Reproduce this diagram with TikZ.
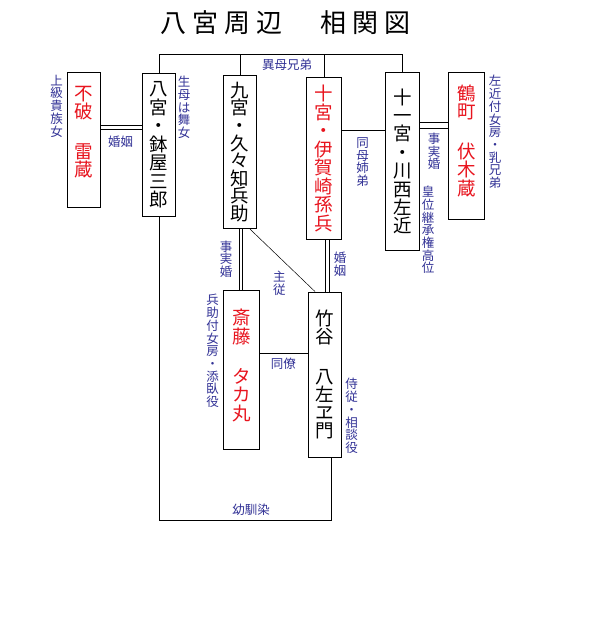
\documentclass[tikz,border=0pt]{standalone}
\usepackage{fontspec}
\newfontfamily\jp{Noto Sans CJK JP}
\definecolor{navy}{RGB}{50,50,150}
\definecolor{rd}{RGB}{232,20,30}
\begin{document}
\begin{tikzpicture}[x=1pt,y=-1pt,
  box/.style={draw=black, line width=0.8pt, inner sep=0pt, align=center, fill=white},
  bk/.style={text=black, font=\jp\fontsize{18.5}{#1}\selectfont},
  rdt/.style={text=rd, font=\jp\fontsize{18.5}{#1}\selectfont},
  lbl/.style={text=navy, inner sep=0pt, align=center, font=\jp\fontsize{12.5}{#1}\selectfont},
  lbl/.default=12.7,
  ln/.style={line width=0.8pt, draw=black}]
\useasboundingbox[fill=white] (0,0) rectangle (594,641);

% title
\node[font=\jp\fontsize{26}{26}\selectfont, inner sep=0pt] (title) at (285.5,22.5)
  {八\kern6pt 宮\kern6pt 周\kern6pt 辺\kern38pt 相\kern6pt 関\kern6pt 図};

% boxes
\node[box, rdt=18, minimum width=33pt, minimum height=135pt] (fuwa) at (83.5,139.5)
  {不\\破\\[22pt]雷\\蔵\\[-1.5pt]\mbox{}};
\node[box, bk=18.5, minimum width=33.4pt, minimum height=142.3pt] (hachi) at (159,145)
  {八\\宮\\・\\鉢\\屋\\三\\郎};
\node[box, bk=17.6, minimum width=33.4pt, minimum height=153.4pt] (kyu) at (240,152)
  {九\\宮\\・\\久\\々\\知\\兵\\助};
\node[box, rdt=18.5, minimum width=35pt, minimum height=162pt] (ju) at (324.2,158.3)
  {十\\宮\\・\\伊\\賀\\崎\\孫\\兵};
\node[box, bk=18.4, minimum width=33.6pt, minimum height=178pt] (juichi) at (402.5,161.3)
  {十\\一\\宮\\・\\川\\西\\左\\近};
\node[box, rdt=18.6, minimum width=36pt, minimum height=147pt] (tsuru) at (466.3,145.8)
  {鶴\\町\\[21pt]伏\\木\\蔵\\[-7pt]\mbox{}};
\node[box, rdt=18.7, minimum width=36pt, minimum height=159pt] (saito) at (241.3,369.8)
  {斎\\藤\\[21pt]タ\\カ\\丸\\[-9pt]\mbox{}};
\node[box, bk=18, minimum width=33pt, minimum height=165.3pt] (take) at (324.8,374.6)
  {竹\\谷\\[22pt]八\\左\\ヱ\\門};

% connectors
\coordinate (topy) at (0,54);
\draw[ln] (hachi.north) -- (hachi.north |- topy) -| (juichi.north);
\draw[ln] (kyu.north |- topy) -- (kyu.north);
\draw[ln] (ju.north |- topy) -- (ju.north);

\coordinate (fh1) at ([yshift=13.8pt]fuwa.east);
\coordinate (fh2) at ([yshift=9.8pt]fuwa.east);
\draw[ln] (fh1) -- (fh1 -| hachi.west);
\draw[ln] (fh2) -- (fh2 -| hachi.west);

\coordinate (jj) at ([yshift=28.3pt]ju.east);
\draw[ln] (jj) -- (jj -| juichi.west);

\coordinate (jt1) at ([yshift=39pt]juichi.east);
\coordinate (jt2) at ([yshift=33pt]juichi.east);
\draw[ln] (jt1) -- (jt1 -| tsuru.west);
\draw[ln] (jt2) -- (jt2 -| tsuru.west);

\coordinate (ks1) at ([xshift=-0.7pt]kyu.south);
\coordinate (ks2) at ([xshift=2.7pt]kyu.south);
\draw[ln] (ks1) -- (ks1 |- saito.north);
\draw[ln] (ks2) -- (ks2 |- saito.north);

\coordinate (jk1) at ([xshift=1.5pt]ju.south);
\coordinate (jk2) at ([xshift=4.8pt]ju.south);
\draw[ln] (jk1) -- (jk1 |- take.north);
\draw[ln] (jk2) -- (jk2 |- take.north);

\draw[line width=0.5pt] ([xshift=10pt]kyu.south) -- ([xshift=-9.8pt]take.north);

\coordinate (st) at ([yshift=16.5pt]saito.east);
\draw[ln] (st) -- (st -| take.west);

\coordinate (yb) at (0,520);
\draw[ln] (hachi.south) -- (hachi.south |- yb) -| ([xshift=7pt]take.south);

% labels
\node[lbl] (ibo) at (287,64.5) {異母兄弟};
\node[lbl] (l1) at (56.7,106) {上\\級\\貴\\族\\女};
\node[lbl] (l2) at (184,107.5) {生\\母\\は\\舞\\女};
\node[lbl] (kon1) at (120.5,142) {婚姻};
\node[lbl] (l3) at (362.7,162) {同\\母\\姉\\弟};
\node[lbl] (l4) at (434,151.5) {事\\実\\婚};
\node[lbl] (l5) at (428,230) {皇\\位\\継\\承\\権\\高\\位};
\node[lbl] (l6) at (495,132) {左\\近\\付\\女\\房\\・\\乳\\兄\\弟};
\node[lbl] (l7) at (226,259) {事\\実\\婚};
\node[lbl] (kon2) at (340,264) {婚\\姻};
\node[lbl] (l8) at (279.3,283) {主\\従};
\node[lbl] (dr) at (283.3,363.5) {同僚};
\node[lbl] (l9) at (212.7,351) {兵\\助\\付\\女\\房\\・\\添\\臥\\役};
\node[lbl] (l10) at (351.7,416) {侍\\従\\・\\相\\談\\役};
\node[lbl] (osa) at (251,510) {幼馴染};
\end{tikzpicture}
\end{document}
